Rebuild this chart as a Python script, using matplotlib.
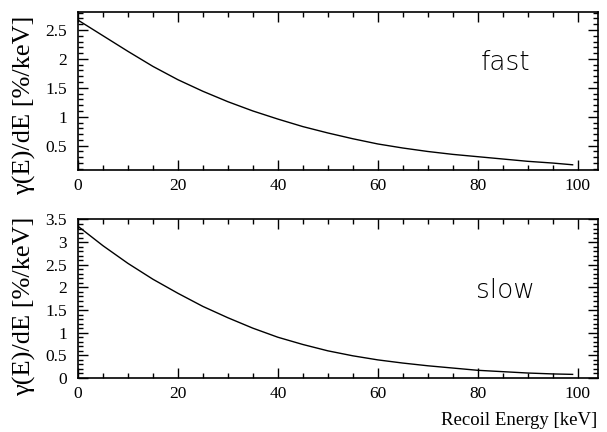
import matplotlib
matplotlib.use("Agg")
import matplotlib.pyplot as plt
from matplotlib.ticker import MultipleLocator

# Recoil energy grid (keV) and read-off values (%/keV)
energy = [0, 5, 10, 15, 20, 25, 30, 35, 40, 45, 50, 55, 60, 65, 70, 75, 80, 85, 90, 95, 99]
fast = [2.67, 2.40, 2.13, 1.87, 1.64, 1.44, 1.26, 1.10, 0.96, 0.83, 0.72, 0.62,
        0.53, 0.46, 0.40, 0.35, 0.31, 0.27, 0.23, 0.20, 0.17]
slow = [3.35, 2.92, 2.53, 2.18, 1.87, 1.58, 1.33, 1.10, 0.90, 0.74, 0.60, 0.49,
        0.40, 0.33, 0.27, 0.22, 0.17, 0.14, 0.11, 0.09, 0.08]

panels = [
    ("fast", fast, (0.08, 2.81), [0.5, 1, 1.5, 2, 2.5], ["0.5", "1", "1.5", "2", "2.5"], 0.41),
    ("slow", slow, (0.0, 3.5), [0, 0.5, 1, 1.5, 2, 2.5, 3, 3.5],
     ["0", "0.5", "1", "1.5", "2", "2.5", "3", "3.5"], 0.45),
]

SERIF = "Liberation Serif"

fig = plt.figure(figsize=(6.07, 4.32), dpi=100)
rects = [[0.1285, 0.6065, 0.856, 0.3657], [0.1285, 0.125, 0.856, 0.367]]

for rect, (name, vals, ylim, yticks, ylabels, ylab_y) in zip(rects, panels):
    ax = fig.add_axes(rect)
    ax.plot(energy, vals, color="black", linewidth=1.0)
    ax.set_xlim(0, 104)
    ax.set_ylim(*ylim)
    ax.set_xticks([0, 20, 40, 60, 80, 100])
    ax.set_xticklabels(["0", "20", "40", "60", "80", "100"], family=SERIF, fontsize=12.5)
    ax.set_yticks(yticks)
    ax.set_yticklabels(ylabels, family=SERIF, fontsize=12.5)
    ax.xaxis.set_minor_locator(MultipleLocator(5))
    ax.yaxis.set_minor_locator(MultipleLocator(0.1))
    ax.tick_params(which="both", direction="in", top=True, right=True, width=1.0)
    ax.tick_params(which="major", length=7)
    ax.tick_params(axis="y", which="major", pad=8)
    ax.tick_params(axis="x", which="major", pad=6)
    ax.tick_params(which="minor", length=3.5)
    for sp in ax.spines.values():
        sp.set_linewidth(1.2)
    ax.set_ylabel("γ(E)/dE [%/keV]", family=SERIF, fontsize=19)
    ax.yaxis.set_label_coords(-0.08, ylab_y)
    ax.text(85.5, 1.93, name, ha="center", va="center", fontsize=19,
            family="DejaVu Sans", fontweight="light")
    if name == "slow":
        ax.set_xlabel("Recoil Energy [keV]", family=SERIF, fontsize=13.5,
                      loc="right", labelpad=7)

fig.savefig("out.png", dpi=100)
